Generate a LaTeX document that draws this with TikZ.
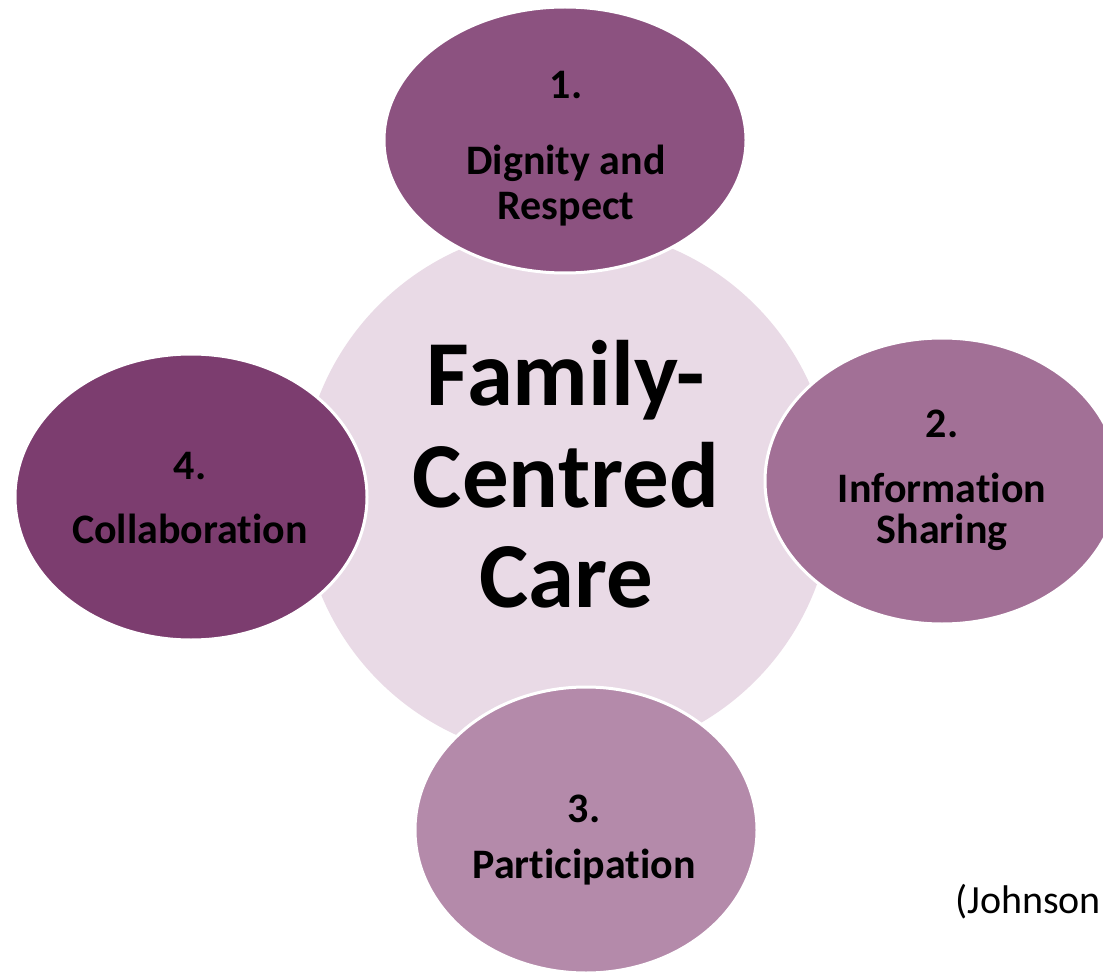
\documentclass[tikz,border=0pt]{standalone}
\usepackage{fontspec}
\setmainfont{Carlito}[Ligatures=NoCommon]
\usetikzlibrary{shapes.geometric}

\definecolor{hubfill}{HTML}{E9DAE6}
\definecolor{dignityfill}{HTML}{8C5280}
\definecolor{infofill}{HTML}{A27096}
\definecolor{partfill}{HTML}{B48AAA}
\definecolor{collabfill}{HTML}{7C3D6F}

\tikzset{
  petal/.style={ellipse, inner sep=0pt, draw=white, line width=3pt},
  petaltext/.style={anchor=base, inner sep=0pt, text=black,
    font=\fontsize{42}{50}\selectfont\bfseries},
  hubtext/.style={anchor=base, inner sep=0pt, text=black,
    font=\fontsize{93}{110}\selectfont\bfseries},
  citetext/.style={anchor=base west, inner sep=0pt, text=black,
    font=\fontsize{40}{48}\selectfont}
}

\begin{document}
\begin{tikzpicture}[x=1pt, y=-1pt]
\useasboundingbox (0,0) rectangle (1103,976);
\fill[white] (0,0) rectangle (1103,976);
\clip (0,0) rectangle (1103,976);

% central hub
\node[circle, inner sep=0pt, minimum size=532pt, fill=hubfill] (hub) at (567,493) {};

% the four surrounding principles
\node[petal, fill=dignityfill, minimum width=362pt, minimum height=266pt] (dignity) at (565,140) {};
\node[petal, fill=infofill, minimum width=354pt, minimum height=286pt] (info) at (942,481) {};
\node[petal, fill=partfill, minimum width=342pt, minimum height=286pt] (part) at (586,830) {};
\node[petal, fill=collabfill, minimum width=352pt, minimum height=286pt] (collab) at (191,497) {};

% hub label
\node[hubtext] (hubA) at (566,405) {Family-};
\node[hubtext] (hubB) at (566,507) {Centred};
\node[hubtext] (hubC) at (566,607) {Care};

% principle labels
\node[petaltext] (dignityA) at (566,99) {1.};
\node[petaltext] (dignityB) at (566,175) {Dignity and};
\node[petaltext] (dignityC) at (566,220) {Respect};

\node[petaltext] (infoA) at (942,437) {2.};
\node[petaltext] (infoB) at (942,502) {Information};
\node[petaltext] (infoC) at (942,543) {Sharing};

\node[petaltext] (partA) at (584,822) {3.};
\node[petaltext] (partB) at (584,878) {Participation};

\node[petaltext] (collabA) at (190,479) {4.};
\node[petaltext] (collabB) at (190,543) {Collaboration};

% source
\node[citetext] (cite) at (955,913) {(Johnson};
\end{tikzpicture}
\end{document}
